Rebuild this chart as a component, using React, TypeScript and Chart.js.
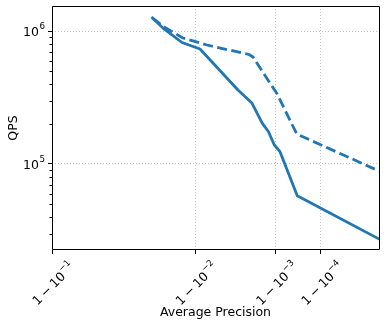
import React, { useEffect, useRef } from "react";
import { Chart, registerables } from "chart.js";

Chart.register(...registerables);

// ---- data ----
const solidAP = [0.97698, 0.98096, 0.98683, 0.99102, 0.99654, 0.99772, 0.99838, 0.99869, 0.99895, 0.99916, 0.99961, 1.0];
const solidQPS = [1252000, 1053000, 819500, 732200, 360100, 287400, 202300, 175500, 138900, 123700, 57760, 27300];

const dashedAP = [0.97698, 0.98166, 0.98709, 0.99235, 0.9975, 0.9978, 0.99867, 0.99905, 0.9996, 1.0];
const dashedQPS = [1252000, 1062000, 885800, 784800, 665700, 637500, 428100, 338900, 168100, 88580];

// x ticks: "1 − 10^k"
const xTickAP = [0.9, 0.99, 0.999, 0.9999];
const xTickBase = ["1", "−", "10"];
const xTickExponents = ["−1", "−2", "−3", "−4"];
const xRange = [0.9, 1.0];

// y ticks: "10^k"
const yTickValues = [1e5, 1e6];
const yTickBase = "10";
const yTickExponents = ["5", "6"];
const yMinorValues = [3e4, 4e4, 5e4, 6e4, 7e4, 8e4, 9e4, 2e5, 3e5, 4e5, 5e5, 6e5, 7e5, 8e5, 9e5];
const yRange = [22560, 1541700];

const COLOR = "#1f77b4";
const FONT = "DejaVu Sans";
const FS = 12.5;
const SUP_FS = 8.75;
const SUP_RAISE = 6.7;

// function scale used for the x axis: -(1 - p)^(1/4)
const fwd = (p: number) => -Math.pow(Math.max(1 - p, 0), 0.25);

const mainFont = `${FS}px "${FONT}"`;
const supFont = `${SUP_FS}px "${FONT}"`;

function measureParts(ctx: CanvasRenderingContext2D, parts: string[], gap: number) {
  ctx.font = mainFont;
  let w = 0;
  parts.forEach((p, i) => {
    w += ctx.measureText(p).width + (i < parts.length - 1 ? gap : 0);
  });
  return w;
}

// draws base parts then superscript, baseline at y=0, starting at x
function drawMath(ctx: CanvasRenderingContext2D, x: number, parts: string[], gap: number, sup: string) {
  ctx.textAlign = "left";
  ctx.textBaseline = "alphabetic";
  ctx.font = mainFont;
  let cx = x;
  parts.forEach((p, i) => {
    ctx.fillText(p, cx, 0);
    cx += ctx.measureText(p).width + (i < parts.length - 1 ? gap : 0);
  });
  ctx.font = supFont;
  ctx.fillText(sup, cx + 0.5, -SUP_RAISE);
  return cx + 0.5 + ctx.measureText(sup).width - x;
}

const framePlugin = {
  id: "frame",
  afterDatasetsDraw(chart: any) {
    const { ctx, chartArea: a, scales } = chart;
    ctx.save();
    ctx.strokeStyle = "#000";
    ctx.lineWidth = 1;
    const ys = scales.y;
    yMinorValues.forEach((v) => {
      const py = Math.round(ys.getPixelForValue(v)) + 0.5;
      ctx.beginPath();
      ctx.moveTo(a.left - 2.5, py);
      ctx.lineTo(a.left, py);
      ctx.stroke();
    });
    ctx.beginPath();
    ctx.rect(a.left + 0.5, a.top + 0.5, a.right - a.left, a.bottom - a.top - 1);
    ctx.stroke();
    ctx.restore();
  },
  afterDraw(chart: any) {
    const { ctx, chartArea: a, scales } = chart;
    ctx.save();
    ctx.fillStyle = "#000";

    // y tick labels
    const ys = scales.y;
    yTickValues.forEach((v, i) => {
      const py = ys.getPixelForValue(v);
      ctx.font = mainFont;
      const wb = ctx.measureText(yTickBase).width;
      ctx.font = supFont;
      const ws = ctx.measureText(yTickExponents[i]).width;
      const right = a.left - 7;
      const x0 = right - (wb + 0.5 + ws);
      ctx.save();
      ctx.translate(0, py + 4.7);
      drawMath(ctx, x0, [yTickBase], 0, yTickExponents[i]);
      ctx.restore();
    });

    // x tick labels, rotated 45 degrees, centred on tick
    const xs = scales.x;
    const gap = 3;
    xTickAP.forEach((p, i) => {
      const px = xs.getPixelForValue(fwd(p));
      const wMain = measureParts(ctx, xTickBase, gap);
      ctx.font = supFont;
      const wSup = ctx.measureText(xTickExponents[i]).width;
      const W = wMain + 0.5 + wSup;
      const H = 13;
      const bboxH = (W + H) * Math.SQRT1_2;
      const top = a.bottom + 8.5;
      ctx.save();
      ctx.translate(px, top + bboxH / 2);
      ctx.rotate(-Math.PI / 4);
      ctx.translate(0, H / 2);
      drawMath(ctx, -W / 2, xTickBase, gap, xTickExponents[i]);
      ctx.restore();
    });
    ctx.restore();
  },
};

export default function App() {
  const ref = useRef<HTMLCanvasElement | null>(null);

  useEffect(() => {
    if (!ref.current) return;
    Chart.defaults.font.family = FONT;
    Chart.defaults.font.size = FS;
    Chart.defaults.color = "#000";

    const chart = new Chart(ref.current, {
      type: "line",
      data: {
        datasets: [
          {
            data: solidAP.map((p, i) => ({ x: fwd(p), y: solidQPS[i] })),
            borderColor: COLOR,
            borderWidth: 2.8,
            pointRadius: 0,
            tension: 0,
            fill: false,
            borderCapStyle: "square",
            borderJoinStyle: "round",
            clip: 0,
          },
          {
            data: dashedAP.map((p, i) => ({ x: fwd(p), y: dashedQPS[i] })),
            borderColor: COLOR,
            borderWidth: 2.8,
            borderDash: [10, 4.4],
            pointRadius: 0,
            tension: 0,
            fill: false,
            borderCapStyle: "butt",
            borderJoinStyle: "round",
            clip: 0,
          },
        ],
      },
      options: {
        animation: false,
        responsive: false,
        devicePixelRatio: 1,
        layout: { padding: { top: 6, right: 7, left: 0, bottom: 0 } },
        plugins: { legend: { display: false }, tooltip: { enabled: false } },
        scales: {
          x: {
            type: "linear",
            min: fwd(xRange[0]),
            max: fwd(xRange[1]),
            afterBuildTicks: (scale: any) => {
              scale.ticks = xTickAP.map((p) => ({ value: fwd(p) }));
            },
            afterFit: (scale: any) => {
              scale.height = 77;
            },
            ticks: { display: false, autoSkip: false },
            grid: {
              color: "#c4c4c4",
              lineWidth: 1,
              tickLength: 4,
              tickColor: "#000",
              tickWidth: 1,
            },
            border: { display: false, dash: [1, 2] },
            title: {
              display: true,
              text: "Average Precision",
              color: "#000",
              font: { family: FONT, size: FS },
              padding: { top: 0, bottom: 6.5 },
            },
          },
          y: {
            type: "logarithmic",
            min: yRange[0],
            max: yRange[1],
            afterBuildTicks: (scale: any) => {
              scale.ticks = yTickValues.map((v) => ({ value: v, major: true }));
            },
            afterFit: (scale: any) => {
              scale.width = 52;
            },
            ticks: { display: false, autoSkip: false },
            grid: {
              color: "#c4c4c4",
              lineWidth: 1,
              tickLength: 4,
              tickColor: "#000",
              tickWidth: 1,
            },
            border: { display: false, dash: [1, 2] },
            title: {
              display: true,
              text: "QPS",
              color: "#000",
              font: { family: FONT, size: FS },
              padding: { top: 6, bottom: 0 },
            },
          },
        },
      },
      plugins: [framePlugin],
    });

    return () => chart.destroy();
  }, []);

  return (
    <canvas
      ref={ref}
      width={386}
      height={327}
      style={{ position: "absolute", left: 0, top: 0, display: "block", width: 386, height: 327 }}
    />
  );
}
